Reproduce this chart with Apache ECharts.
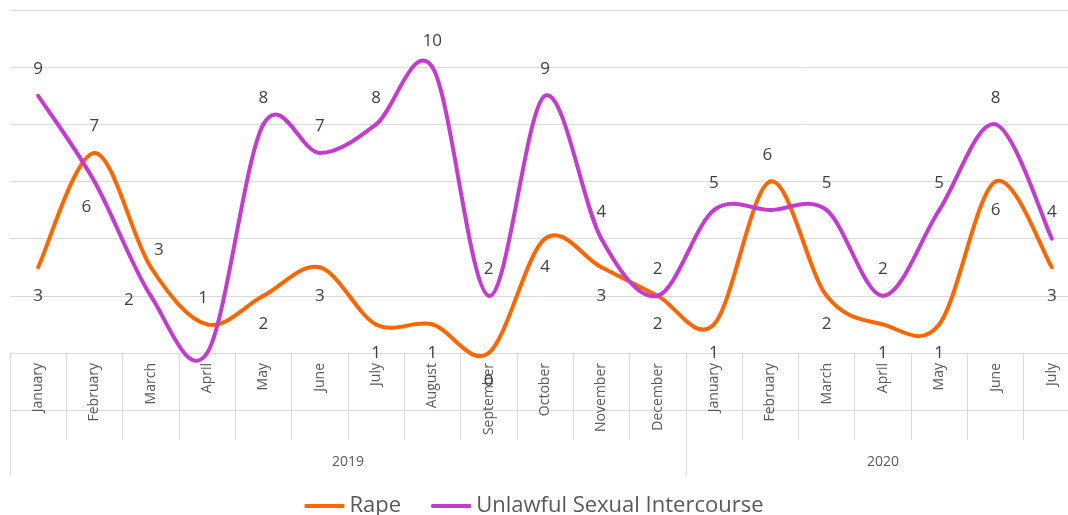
<!DOCTYPE html>
<html><head><meta charset="utf-8">
<script src="https://cdn.jsdelivr.net/npm/echarts@6/dist/echarts.min.js"></script>
<style>html,body{margin:0;padding:0;background:#fff}#c{width:1068px;height:515px}</style>
</head><body><div id="c"></div>
<script>
// ---- data ----
const months2019 = ['January','February','March','April','May','June','July','August','September','October','November','December'];
const months2020 = ['January','February','March','April','May','June','July'];
const years = ['2019', '2020'];
const rape = [3,7,3,1,2,3,1,1,0,4,3,2,1,6,2,1,1,6,3];
const unlawful = [9,6,2,0,8,7,8,10,2,9,4,2,5,5,5,2,5,8,4];
const seriesNames = ['Rape', 'Unlawful Sexual Intercourse'];

// ---- derived ----
const categories = months2019.concat(months2020);
const yearCounts = [months2019.length, months2020.length];
const yearBounds = [0, yearCounts[0], yearCounts[0] + yearCounts[1]];
const yearCenters = [yearBounds[0] + yearCounts[0] / 2, yearBounds[1] + yearCounts[1] / 2];

const FONT = 'Open Sans';
const COLORS = ['#FF6600', '#C43BCF'];
const rapeLabelOverrides = {
  1: {position: 'top', distance: 17},
  2: {position: 'top', distance: 17, offset: [8, 9]},
  3: {position: 'top', distance: 17, offset: [-4, 0]},
  13: {position: 'top', distance: 17, offset: [-3, 0]}
};
const unlawfulLabelOverrides = {
  1: {position: 'bottom', distance: 19, offset: [-8, -3]},
  2: {position: 'left', distance: 16, offset: [0, 4]},
  3: {show: false},
  13: {show: false}
};
function items(values, ov) {
  return values.map((v, i) => ov[i] ? {value: v, label: ov[i]} : v);
}
const labelBase = {show: true, fontFamily: FONT, fontSize: 17, color: '#404040'};

// Smooth (Catmull-Rom style) curve drawn through the axis coordinates of the data
function curveRenderer(color) {
  return function (params, api) {
    const i = params.dataIndexInside;
    const n = params.dataInsideLength;
    if (i >= n - 1) return null;
    const pt = k => {
      k = Math.max(0, Math.min(n - 1, k));
      return api.coord([api.value(0, k), api.value(1, k)]);
    };
    const p0 = pt(i - 1), p1 = pt(i), p2 = pt(i + 1), p3 = pt(i + 2);
    const t = 1 / 6;
    return {
      type: 'bezierCurve',
      shape: {
        x1: p1[0], y1: p1[1], x2: p2[0], y2: p2[1],
        cpx1: p1[0] + (p2[0] - p0[0]) * t, cpy1: p1[1] + (p2[1] - p0[1]) * t,
        cpx2: p2[0] - (p3[0] - p1[0]) * t, cpy2: p2[1] - (p3[1] - p1[1]) * t
      },
      style: {stroke: color, lineWidth: 4, fill: null, lineCap: 'round'}
    };
  };
}

const chart = echarts.init(document.getElementById('c'), null, {renderer: 'canvas'});
chart.setOption({
  animation: false,
  backgroundColor: '#ffffff',
  color: COLORS,
  grid: {left: 10, top: 10, width: 1070, height: 343, containLabel: false, outerBoundsMode: 'none'},
  legend: {
    top: 490, left: 'center',
    icon: 'roundRect', itemWidth: 40, itemHeight: 4, itemGap: 30,
    textStyle: {fontFamily: FONT, fontSize: 22, color: '#595959'},
    data: seriesNames
  },
  xAxis: [{
    type: 'category',
    data: categories,
    boundaryGap: true,
    position: 'bottom',
    axisLine: {show: true, onZero: false, lineStyle: {color: '#D9D9D9', width: 1}},
    axisTick: {show: true, interval: 0, length: 87, lineStyle: {color: '#D9D9D9'}},
    axisLabel: {interval: 0, rotate: 90, margin: 10, fontFamily: FONT, fontSize: 14, color: '#595959'},
    splitLine: {show: false}
  }, {
    type: 'value',
    min: 0, max: yearBounds[2],
    position: 'bottom',
    offset: 57,
    axisLine: {show: true, onZero: false, lineStyle: {color: '#D9D9D9', width: 1}},
    axisTick: {show: true, customValues: yearBounds, length: 65, lineStyle: {color: '#D9D9D9'}},
    axisLabel: {
      customValues: yearCenters, margin: 45,
      fontFamily: FONT, fontSize: 14, color: '#595959',
      formatter: v => years[yearCenters.indexOf(v)] || ''
    },
    splitLine: {show: false}
  }],
  yAxis: {
    type: 'value', min: 0, max: 12, interval: 2,
    axisLine: {show: false}, axisTick: {show: false}, axisLabel: {show: false},
    splitLine: {show: true, lineStyle: {color: '#D9D9D9', width: 1}}
  },
  series: [{
    name: seriesNames[0] + ' labels', type: 'line', xAxisIndex: 0, clip: false,
    data: items(rape, rapeLabelOverrides),
    symbol: 'circle', symbolSize: 2,
    lineStyle: {opacity: 0},
    itemStyle: {color: COLORS[0]},
    label: Object.assign({position: 'bottom', distance: 19}, labelBase),
    z: 2
  }, {
    name: seriesNames[1] + ' labels', type: 'line', xAxisIndex: 0, clip: false,
    data: items(unlawful, unlawfulLabelOverrides),
    symbol: 'circle', symbolSize: 2,
    lineStyle: {opacity: 0},
    itemStyle: {color: COLORS[1]},
    label: Object.assign({position: 'top', distance: 17}, labelBase),
    z: 2
  }, {
    name: seriesNames[0], type: 'custom', xAxisIndex: 0, clip: false,
    data: rape.map((v, i) => [i, v]),
    itemStyle: {color: COLORS[0]},
    renderItem: curveRenderer(COLORS[0]),
    z: 3
  }, {
    name: seriesNames[1], type: 'custom', xAxisIndex: 0, clip: false,
    data: unlawful.map((v, i) => [i, v]),
    itemStyle: {color: COLORS[1]},
    renderItem: curveRenderer(COLORS[1]),
    z: 3
  }]
});
</script>
</body></html>
